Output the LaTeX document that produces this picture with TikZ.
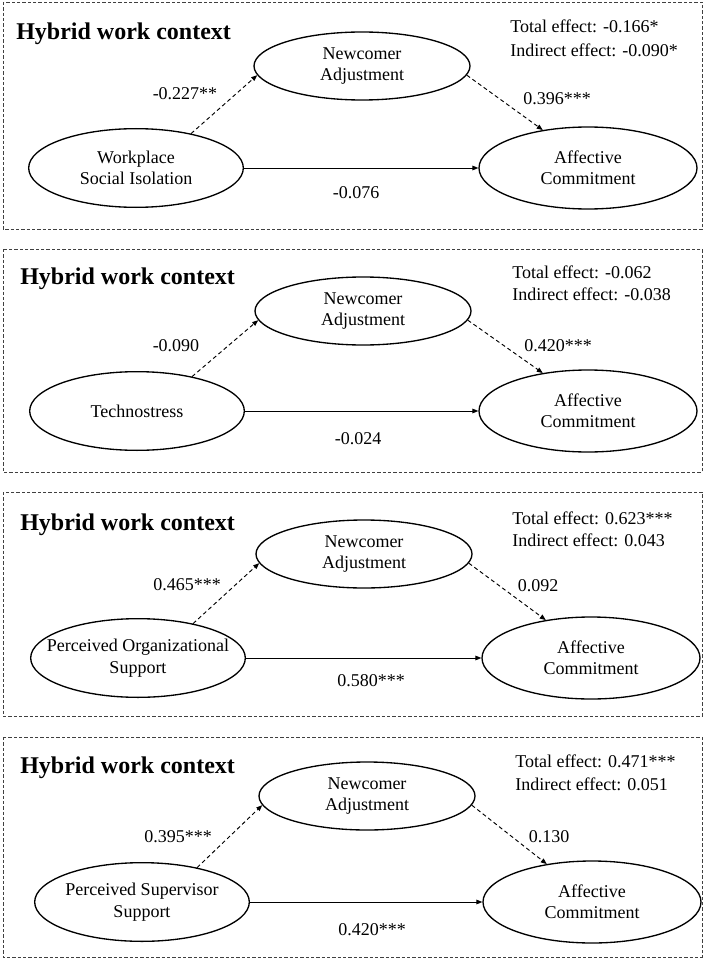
\documentclass[tikz,border=0pt]{standalone}
\usepackage{fontspec}
\setmainfont{Liberation Serif}
\usetikzlibrary{shapes.geometric,arrows.meta}

\tikzset{
  latent/.style={ellipse,draw,line width=1pt,inner sep=0pt},
  mediator/.style={latent,minimum width=162pt,minimum height=51pt},
  predictor/.style={latent,minimum width=161pt,minimum height=59pt},
  outcome/.style={latent,minimum width=163.5pt,minimum height=61.5pt},
  vartext/.style={align=center,font=\fontsize{13.5}{16}\selectfont},
  coef/.style={inner sep=0pt,font=\fontsize{13.5}{16}\selectfont},
  effect/.style={anchor=base west,inner sep=0pt,font=\fontsize{13.5}{16}\selectfont},
  paneltitle/.style={anchor=base west,inner sep=0pt,font=\fontsize{18}{20}\selectfont\bfseries},
  panelbox/.style={draw=black!75,line width=0.7pt,dash pattern=on 2.5pt off 1.5pt},
  indirect/.style={-{Triangle[length=4.5pt,width=3.5pt]},line width=0.7pt,dash pattern=on 3pt off 2.2pt},
  direct/.style={-{Triangle[length=4.5pt,width=3.5pt]},line width=0.7pt},
}

\begin{document}
\begin{tikzpicture}[x=0.75pt,y=-0.75pt]
\useasboundingbox (0,0) rectangle (708,963);

% social isolation
\begin{scope}[shift={(0,2)}]
\draw[panelbox] (3,0) rectangle (702,227);
\node[paneltitle] (title1) at (16,38) {Hybrid work context};
\node[effect] (tot1) at (510,31) {Total effect: -0.166*};
\node[effect] (ind1) at (510,55) {Indirect effect: -0.090*};
\node[mediator,label={[vartext]center:Newcomer\\Adjustment}] (na1) at (362,64) {};
\node[predictor,label={[vartext]center:Workplace\\Social Isolation}] (x1) at (136,166) {};
\node[outcome,label={[vartext]center:Affective\\Commitment}] (ac1) at (588,166) {};
\draw[indirect] (x1.32) -- (na1.185);
\draw[indirect] (na1.-5) -- (ac1.140);
\draw[direct] (x1) -- (ac1);
\node[coef] (a1) at (185,92) {-0.227**};
\node[coef] (b1) at (557,97) {0.396***};
\node[coef] (c1) at (356,191) {-0.076};
\end{scope}

% technostress
\begin{scope}[shift={(0,249)}]
\draw[panelbox] (3,0) rectangle (702,223);
\node[paneltitle] (title2) at (20,35) {Hybrid work context};
\node[effect] (tot2) at (512,29) {Total effect: -0.062};
\node[effect] (ind2) at (512,51) {Indirect effect: -0.038};
\node[mediator,label={[vartext]center:Newcomer\\Adjustment}] (na2) at (363,62) {};
\node[predictor,label={[vartext]center:Technostress}] (x2) at (137,162) {};
\node[outcome,label={[vartext]center:Affective\\Commitment}] (ac2) at (588,162) {};
\draw[indirect] (x2.32) -- (na2.185);
\draw[indirect] (na2.-5) -- (ac2.140);
\draw[direct] (x2) -- (ac2);
\node[coef] (a2) at (176,97) {-0.090};
\node[coef] (b2) at (558,97) {0.420***};
\node[coef] (c2) at (358,190) {-0.024};
\end{scope}

% organizational support
\begin{scope}[shift={(0,492)}]
\draw[panelbox] (3,0) rectangle (702,224);
\node[paneltitle] (title3) at (20,38) {Hybrid work context};
\node[effect] (tot3) at (512,32) {Total effect: 0.623***};
\node[effect] (ind3) at (512,54) {Indirect effect: 0.043};
\node[mediator,label={[vartext]center:Newcomer\\Adjustment}] (na3) at (364,62) {};
\node[predictor,label={[vartext]center:Perceived Organizational\\Support}] (x3) at (138,166) {};
\node[outcome,label={[vartext]center:Affective\\Commitment}] (ac3) at (591,166) {};
\draw[indirect] (x3.32) -- (na3.185);
\draw[indirect] (na3.-5) -- (ac3.140);
\draw[direct] (x3) -- (ac3);
\node[coef] (a3) at (187,93) {0.465***};
\node[coef] (b3) at (538,94) {0.092};
\node[coef] (c3) at (371,189) {0.580***};
\end{scope}

% supervisor support
\begin{scope}[shift={(0,737)}]
\draw[panelbox] (3,0) rectangle (702,220);
\node[paneltitle] (title4) at (20,36) {Hybrid work context};
\node[effect] (tot4) at (515,30) {Total effect: 0.471***};
\node[effect] (ind4) at (515,53) {Indirect effect: 0.051};
\node[mediator,label={[vartext]center:Newcomer\\Adjustment}] (na4) at (367,59) {};
\node[predictor,label={[vartext]center:Perceived Supervisor\\Support}] (x4) at (142,165) {};
\node[outcome,label={[vartext]center:Affective\\Commitment}] (ac4) at (592,165) {};
\draw[indirect] (x4.32) -- (na4.185);
\draw[indirect] (na4.-5) -- (ac4.140);
\draw[direct] (x4) -- (ac4);
\node[coef] (a4) at (178,100) {0.395***};
\node[coef] (b4) at (549,100) {0.130};
\node[coef] (c4) at (372,193) {0.420***};
\end{scope}
\end{tikzpicture}
\end{document}
